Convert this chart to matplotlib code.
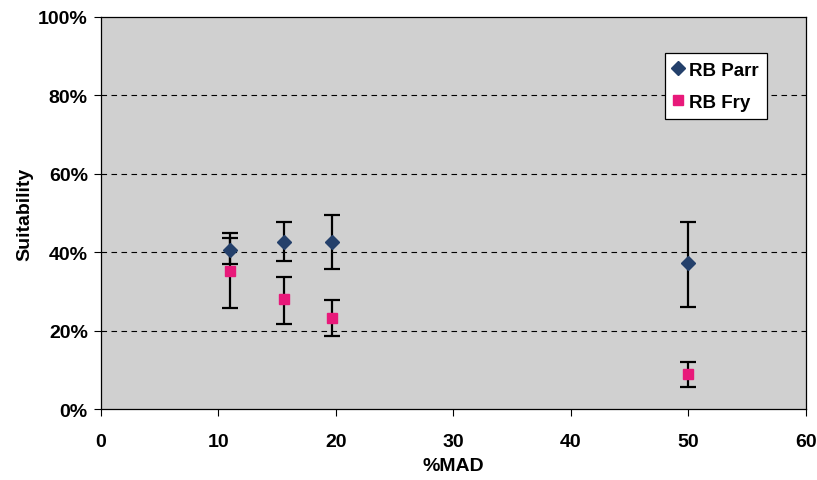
import matplotlib
matplotlib.use("Agg")
import matplotlib.pyplot as plt
from matplotlib.ticker import PercentFormatter

plt.rcParams['font.family'] = ['Liberation Sans', 'DejaVu Sans']
plt.rcParams['font.weight'] = 'bold'

# %MAD positions
mad = [11.0, 15.55, 19.7, 50.0]

# RB Parr suitability (%), with lower / upper error bar ends
parr = [40.5, 42.6, 42.6, 37.3]
parr_low = [37.0, 37.8, 35.7, 26.0]
parr_high = [45.0, 47.6, 49.6, 47.8]

# RB Fry suitability (%)
fry = [35.3, 28.1, 23.2, 9.0]
fry_low = [25.8, 21.7, 18.5, 5.7]
fry_high = [43.7, 33.6, 27.9, 12.1]

fig = plt.figure(figsize=(8.17, 4.81), dpi=100)
ax = fig.add_axes([0.1236, 0.1476, 0.8629, 0.815])
ax.set_facecolor('#d0d0d0')

for y in [20, 40, 60, 80]:
    ax.axhline(y, color='black', lw=0.8, ls=(0, (5, 4)), zorder=1)

parr_err = [[p - l for p, l in zip(parr, parr_low)], [h - p for p, h in zip(parr, parr_high)]]
fry_err = [[f - l for f, l in zip(fry, fry_low)], [h - f for f, h in zip(fry, fry_high)]]

ax.errorbar(mad, parr, yerr=parr_err, fmt='D', color='#24406b', ms=7.5,
            ecolor='black', elinewidth=1.6, capsize=6, capthick=1.6,
            label='RB Parr', zorder=3)
ax.errorbar(mad, fry, yerr=fry_err, fmt='s', color='#e8197a', ms=7.5,
            ecolor='black', elinewidth=1.6, capsize=6, capthick=1.6,
            label='RB Fry', zorder=3)

ax.set_xlim(0, 60)
ax.set_ylim(0, 100)
ax.set_xticks(range(0, 61, 10))
ax.set_yticks(range(0, 101, 20))
ax.yaxis.set_major_formatter(PercentFormatter(decimals=0))
ax.tick_params(direction='out', labelsize=14, length=5, color='black')
ax.tick_params(axis='x', pad=12)
ax.tick_params(axis='y', pad=4.5)
for s in ax.spines.values():
    s.set_color('black')
    s.set_linewidth(0.9)

ax.set_xlabel('%MAD', fontsize=14, fontweight='bold', labelpad=5)
ax.set_ylabel('Suitability', fontsize=14, fontweight='bold', labelpad=3)

handles, labels = ax.get_legend_handles_labels()
handles = [h[0] for h in handles]
leg = ax.legend(handles, labels, loc='upper right', bbox_to_anchor=(0.945, 0.908),
                borderaxespad=0, fontsize=13.5, frameon=True, fancybox=False,
                edgecolor='black', facecolor='white', framealpha=1,
                handlelength=0.5, handletextpad=0.35, labelspacing=0.8,
                borderpad=0.45)
leg.get_frame().set_linewidth(0.9)

fig.savefig('out.png', dpi=100, facecolor='white')
